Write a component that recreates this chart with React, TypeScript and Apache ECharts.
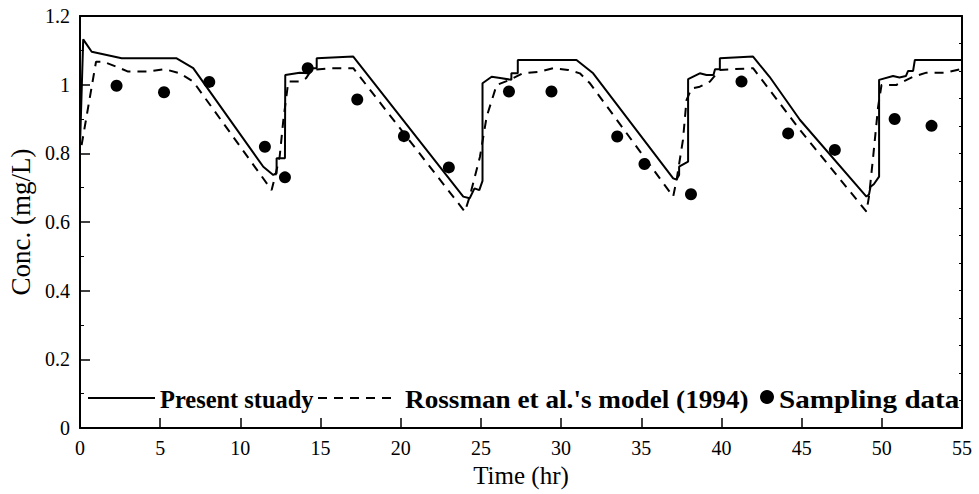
import React, { useEffect, useRef } from "react";
import * as echarts from "echarts";

const presentStudy: [number, number][] = [
  [0, 0.82], [0.2, 1.132], [0.73, 1.096], [2.6, 1.077], [6.0, 1.077], [7.06, 1.048],
  [11.43, 0.761], [12.05, 0.737], [12.26, 0.742], [12.26, 0.786], [12.78, 0.786], [12.8, 1.028],
  [13.7, 1.035], [14.23, 1.033], [14.23, 1.048], [14.76, 1.048], [14.76, 1.077], [17.04, 1.082],
  [23.9, 0.674], [24.3, 0.669], [24.6, 0.698], [24.9, 0.693], [25.1, 0.72], [25.1, 1.004],
  [25.67, 1.023], [26.3, 1.019], [26.9, 1.014], [26.9, 1.033], [27.3, 1.033], [27.3, 1.072],
  [30.96, 1.072], [32.0, 1.033], [36.99, 0.727], [37.2, 0.724], [37.36, 0.737], [37.36, 0.761],
  [37.92, 0.776], [37.92, 1.016], [38.65, 1.033], [39.07, 1.028], [39.5, 1.028], [39.6, 1.045],
  [39.9, 1.045], [39.9, 1.077], [41.97, 1.082], [42.4, 1.057], [43.0, 1.023], [44.9, 0.897],
  [49.04, 0.674], [49.2, 0.68], [49.3, 0.703], [49.5, 0.71], [49.83, 0.732], [49.83, 1.014],
  [50.7, 1.025], [51.1, 1.021], [51.5, 1.025], [51.64, 1.04], [51.95, 1.04], [52.06, 1.072],
  [55, 1.072],
];

const rossmanModel: [number, number][] = [
  [0.1, 0.824], [1.0, 1.067], [1.45, 1.067], [2.5, 1.048], [3.0, 1.038], [4.16, 1.038],
  [5.3, 1.045], [6.23, 1.033], [7.06, 1.009], [11.95, 0.693], [12.16, 0.732], [12.45, 0.79],
  [12.68, 0.897], [12.99, 1.009], [13.7, 1.009], [14.1, 1.019], [14.44, 1.043], [15.6, 1.048],
  [17.04, 1.048], [24.0, 0.63], [24.3, 0.674], [24.94, 0.79], [25.36, 0.907], [25.98, 0.999],
  [26.8, 1.014], [27.6, 1.033], [28.7, 1.038], [29.5, 1.048], [30.44, 1.043], [31.17, 1.033],
  [31.8, 1.004], [36.99, 0.674], [37.2, 0.722], [37.6, 0.839], [37.82, 0.955], [38.13, 0.989],
  [38.65, 0.994], [39.28, 1.009], [39.9, 1.043], [41.97, 1.048], [44.9, 0.868], [49.04, 0.63],
  [49.2, 0.674], [49.46, 0.79], [49.77, 0.936], [49.98, 0.999], [50.9, 0.999], [51.33, 1.009],
  [51.95, 1.023], [52.78, 1.035], [54.0, 1.035], [55, 1.046],
];

const samplingData: [number, number][] = [
  [2.28, 0.997], [5.24, 0.978], [8.06, 1.008], [11.53, 0.819], [12.78, 0.73], [14.2, 1.048],
  [17.29, 0.957], [20.2, 0.85], [23.0, 0.759], [26.75, 0.98], [29.4, 0.98], [33.5, 0.849],
  [35.2, 0.769], [38.1, 0.681], [41.25, 1.009], [44.16, 0.858], [47.07, 0.81], [50.8, 0.9],
  [53.1, 0.88],
];

const legendLabels = ["Present stuady", "Rossman et al.'s model (1994)", "Sampling data"];

const FONT = "'Liberation Serif', 'Times New Roman', serif";

export default function App() {
  const ref = useRef<HTMLDivElement>(null);
  useEffect(() => {
    if (!ref.current) return;
    const chart = echarts.init(ref.current, undefined, { renderer: "svg" });
    const legendFont = { fontFamily: FONT, fontWeight: "bold" as const, fontSize: 26, fill: "#000" };
    chart.setOption({
      animation: false,
      backgroundColor: "#fff",
      grid: { left: 80, right: 17, top: 16, bottom: 66, containLabel: false, outerBoundsMode: "none" },
      xAxis: [
        {
          type: "value", min: 0, max: 55, interval: 5,
          name: "Time (hr)", nameLocation: "middle", nameGap: 33,
          nameTextStyle: { fontFamily: FONT, fontSize: 25, color: "#000" },
          axisLine: { show: true, onZero: false, lineStyle: { color: "#000", width: 2 } },
          axisTick: { show: true, inside: true, length: 10, lineStyle: { color: "#000", width: 1.5 } },
          axisLabel: { fontFamily: FONT, fontSize: 20, color: "#000", margin: 10 },
          splitLine: { show: false },
        },
        {
          type: "value", min: 0, max: 55, position: "top",
          axisLine: { show: true, onZero: false, lineStyle: { color: "#000", width: 2 } },
          axisTick: { show: false }, axisLabel: { show: false }, splitLine: { show: false },
        },
      ],
      yAxis: [
        {
          type: "value", min: 0, max: 1.2, interval: 0.2,
          name: "Conc. (mg/L)", nameLocation: "middle", nameGap: 46,
          nameTextStyle: { fontFamily: FONT, fontSize: 27, color: "#000" },
          axisLine: { show: true, onZero: false, lineStyle: { color: "#000", width: 2 } },
          axisTick: { show: true, inside: true, length: 10, lineStyle: { color: "#000", width: 1.5 } },
          minorTick: { show: true, splitNumber: 2, length: 4, lineStyle: { color: "#000", width: 1 } },
          axisLabel: {
            fontFamily: FONT, fontSize: 20, color: "#000", margin: 10,
            formatter: (v: number) => String(Number(v.toFixed(1))),
          },
          splitLine: { show: false },
        },
        {
          type: "value", min: 0, max: 1.2, interval: 0.08, position: "right",
          axisLine: { show: true, onZero: false, lineStyle: { color: "#000", width: 2 } },
          axisTick: { show: true, inside: true, length: 3, lineStyle: { color: "#000", width: 1 } },
          axisLabel: { show: false }, splitLine: { show: false },
        },
      ],
      series: [
        {
          name: legendLabels[0], type: "line", data: presentStudy, showSymbol: false, symbol: "none",
          lineStyle: { color: "#000", width: 2 },
        },
        {
          name: legendLabels[1], type: "line", data: rossmanModel, showSymbol: false, symbol: "none",
          lineStyle: { color: "#000", width: 2, type: [9, 7] },
        },
        {
          name: legendLabels[2], type: "scatter", data: samplingData, symbol: "circle", symbolSize: 12,
          itemStyle: { color: "#000", opacity: 1 },
        },
      ],
      graphic: [
        { type: "line", shape: { x1: 88, y1: 398, x2: 155, y2: 398 }, style: { stroke: "#000", lineWidth: 2 } },
        { type: "text", x: 160, y: 399, scaleX: 0.94, style: { ...legendFont, text: legendLabels[0], verticalAlign: "middle" } },
        { type: "line", shape: { x1: 318, y1: 398, x2: 398, y2: 398 }, style: { stroke: "#000", lineWidth: 2, lineDash: [9, 7] } },
        { type: "text", x: 405, y: 399, scaleX: 1.046, style: { ...legendFont, text: legendLabels[1], verticalAlign: "middle" } },
        { type: "circle", shape: { cx: 767, cy: 397, r: 7 }, style: { fill: "#000" } },
        { type: "text", x: 779, y: 399, scaleX: 1.12, style: { ...legendFont, text: legendLabels[2], verticalAlign: "middle" } },
      ],
    });
    return () => chart.dispose();
  }, []);
  return <div ref={ref} style={{ width: 979, height: 494, position: "absolute", left: 0, top: 0 }} />;
}
